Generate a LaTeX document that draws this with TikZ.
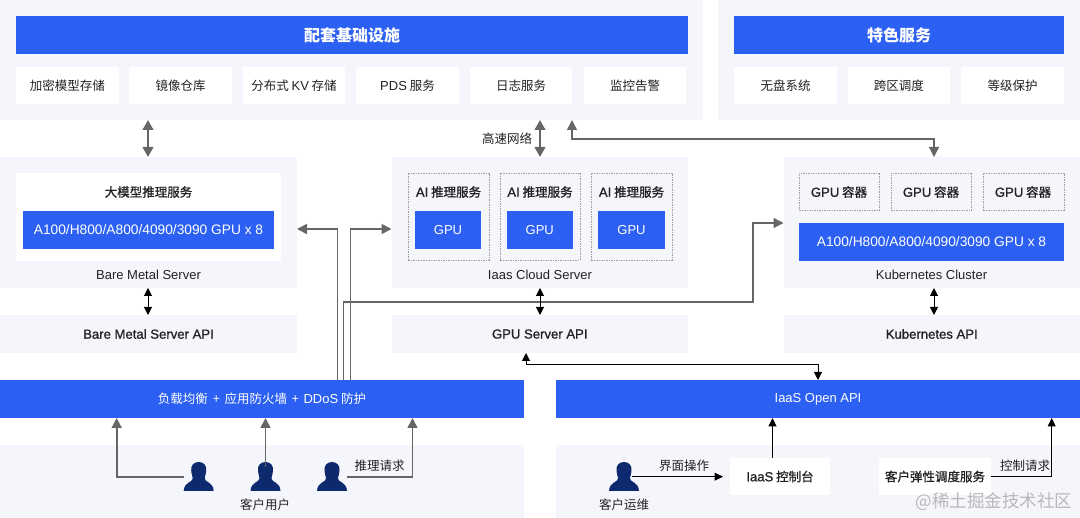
\documentclass[tikz,border=0pt]{standalone}
\usepackage{fontspec}
\setmainfont{Noto Sans CJK SC}
\newfontfamily\lat{Liberation Sans}[Scale=1.04]
\newfontfamily\latg{Liberation Sans}[Scale=1.1]
\newfontfamily\latm{Liberation Sans}[Scale=1.05,FakeBold=1]
\newfontfamily\cjkm{Noto Sans CJK SC}[FakeBold=1]
\usetikzlibrary{arrows.meta}
\definecolor{panelc}{HTML}{F4F6FB}
\definecolor{bluec}{HTML}{2C60F2}
\definecolor{navyc}{HTML}{0E2A6E}
\definecolor{grayc}{HTML}{666666}
\definecolor{darkc}{HTML}{222222}
\newcommand{\bx}[7]{%
  \pgfmathsetmacro{\cxa}{(#3+#5)/2}\pgfmathsetmacro{\cya}{(#4+#6)/2}%
  \pgfmathsetmacro{\wa}{#5-#3}\pgfmathsetmacro{\ha}{#6-#4}%
  \node[#2,minimum width=\wa pt,minimum height=\ha pt] (#1) at (\cxa,\cya) {#7};}
\newcommand{\person}[2]{%
  \node[inner sep=0pt,minimum width=30pt,minimum height=29pt] (#1) at (#2,476.5) {};
  \fill[navyc,shift={(#2,476.5)}] (0,-14.5) .. controls (5,-14.5) and (8,-11) .. (7.5,-6)
    .. controls (7.2,-2) and (6,0) .. (6,2) .. controls (6,6) and (14.5,5) .. (15,14.5)
    -- (-15,14.5) .. controls (-14.5,5) and (-6,6) .. (-6,2)
    .. controls (-6,0) and (-7.2,-2) .. (-7.5,-6) .. controls (-8,-11) and (-5,-14.5) .. (0,-14.5) -- cycle;}
\tikzset{
  base/.style={inner sep=0pt,outer sep=0pt,font=\fontsize{12.5}{15}\selectfont,text=darkc},
  panel/.style={base,fill=panelc},
  whitebox/.style={base,fill=white},
  bluebar/.style={base,fill=bluec,text=white},
  titlebar/.style={bluebar,font=\fontsize{16}{19}\selectfont\bfseries},
  dashbox/.style={base,draw=gray!75,line width=0.7pt,dash pattern=on 1.5pt off 1pt},
  strong/.style={base,font=\fontsize{12.5}{15}\cjkm\selectfont},
  lbl/.style={base,fill=none},
  thickarr/.style={draw=grayc,line width=2.4pt,{Triangle[length=10pt,width=10.5pt]}-{Triangle[length=10pt,width=10.5pt]}},
  grayarr/.style={draw=grayc,line width=1.3pt,-{Triangle[length=10pt,width=10pt]}},
  graymain/.style={grayarr,line width=1.7pt},
  gray2arr/.style={draw=grayc,line width=1.3pt,{Triangle[length=10pt,width=10pt]}-{Triangle[length=10pt,width=10pt]}},
  blackdbl/.style={draw=black,line width=1pt,{Triangle[length=8pt,width=8pt]}-{Triangle[length=8pt,width=8pt]}},
  blackarr/.style={draw=black,line width=1pt,-{Triangle[length=8.5pt,width=8pt]}},
}
\begin{document}
\begin{tikzpicture}[x=1pt,y=-1pt]
\useasboundingbox (0,0) rectangle (1080,518);
% top panels
\bx{infra}{panel}{0}{0}{703}{120}{}
\bx{feat}{panel}{718}{0}{1080}{120}{}
\bx{infrabar}{titlebar}{16}{16}{688}{54}{配套基础设施}
\bx{featbar}{titlebar}{734}{16}{1064}{54}{特色服务}
\bx{i1}{whitebox}{16}{67}{119}{104}{加密模型存储}
\bx{i2}{whitebox}{129}{67}{232}{104}{镜像仓库}
\bx{i3}{whitebox}{243}{67}{345}{104}{分布式 {\lat KV} 存储}
\bx{i4}{whitebox}{356}{67}{459}{104}{{\lat PDS} 服务}
\bx{i5}{whitebox}{470}{67}{572}{104}{日志服务}
\bx{i6}{whitebox}{584}{67}{686}{104}{监控告警}
\bx{f1}{whitebox}{734}{67}{837}{104}{无盘系统}
\bx{f2}{whitebox}{847.5}{67}{950}{104}{跨区调度}
\bx{f3}{whitebox}{961}{67}{1064}{104}{等级保护}
% bare metal
\bx{bm}{panel}{0}{157}{297}{288}{}
\bx{bmw}{whitebox}{16}{173}{281}{261}{}
\node[strong] (bmt) at (148.5,192) {大模型推理服务};
\bx{bmg}{bluebar}{23}{211}{274}{249}{\latg A100/H800/A800/4090/3090 GPU x 8}
\node[lbl] (bml) at (148.5,275) {\lat Bare Metal Server};
\bx{bmapi}{panel}{0}{315}{297}{353}{\latm Bare Metal Server API}
% iaas
\bx{ia}{panel}{391.5}{157}{688}{288}{}
\bx{d1}{dashbox}{408}{173}{489}{260}{}
\bx{d2}{dashbox}{500}{173}{580}{260}{}
\bx{d3}{dashbox}{591}{173}{672}{260}{}
\node[strong] (t1) at (448.5,192) {{\latm AI} 推理服务};
\node[strong] (t2) at (540,192) {{\latm AI} 推理服务};
\node[strong] (t3) at (631.5,192) {{\latm AI} 推理服务};
\bx{g1}{bluebar}{415}{211}{481}{249}{\lat GPU}
\bx{g2}{bluebar}{506.5}{211}{573}{249}{\lat GPU}
\bx{g3}{bluebar}{598}{211}{665}{249}{\lat GPU}
\node[lbl] (ial) at (540,275) {\lat Iaas Cloud Server};
\bx{iaapi}{panel}{391.5}{315}{688}{353}{\latm GPU Server API}
% k8s
\bx{k}{panel}{783.5}{157}{1080}{288}{}
\bx{c1}{dashbox}{799}{173}{879.5}{210}{}
\bx{c2}{dashbox}{891}{173}{971.5}{210}{}
\bx{c3}{dashbox}{983}{173}{1064}{210}{}
\node[strong] (ct1) at (839,192) {{\latm GPU} 容器};
\node[strong] (ct2) at (931,192) {{\latm GPU} 容器};
\node[strong] (ct3) at (1023,192) {{\latm GPU} 容器};
\bx{kg}{bluebar}{799}{223}{1064}{261}{\latg A100/H800/A800/4090/3090 GPU x 8}
\node[lbl] (kl) at (931.5,275) {\lat Kubernetes Cluster};
\bx{kapi}{panel}{783.5}{315}{1080}{353}{\latm Kubernetes API}
% bottom
\bx{lb}{bluebar}{0}{380}{524}{418}{负载均衡\hspace{2pt} + \hspace{2pt}应用防火墙\hspace{2pt} + \hspace{2pt}{\lat DDoS} 防护}
\bx{open}{bluebar}{556}{380}{1080}{418}{\lat IaaS Open API}
\bx{users}{panel}{0}{445}{524}{518}{}
\bx{ops}{panel}{556}{445}{1080}{518}{}
\person{p1}{198.7}
\person{p2}{265.5}
\person{p3}{332}
\person{p4}{624}
\node[lbl] (ul) at (265,505) {客户用户};
\node[lbl] (ol) at (624,505) {客户运维};
\bx{con}{whitebox}{730}{458}{830}{495}{{\latm IaaS} {\cjkm 控制台}}
\bx{sch}{strong,fill=white}{879}{458}{991}{495}{客户弹性调度服务}
% routing coordinates
\coordinate (x148) at (148,0);
\coordinate (x540) at (540,0);
\coordinate (x572) at (572,139);
\coordinate (x934) at (934,139);
\coordinate (xa) at (337.5,229);
\coordinate (xb) at (350.5,229);
\coordinate (xc) at (343.7,302);
\coordinate (xd) at (753,302);
\coordinate (xe) at (753,223);
\coordinate (xf) at (526,365);
\coordinate (xg) at (818,365);
\coordinate (xh) at (116.7,476.7);
\coordinate (xi) at (412.5,476.7);
\coordinate (xj) at (772.5,0);
\coordinate (xk) at (1051.7,476.7);
% connectors
\draw[thickarr] (infra.south -| x148) -- (bm.north -| x148);
\draw[thickarr] (infra.south -| x540) -- (ia.north -| x540);
\node[lbl,anchor=east] (net) at (532,139) {高速网络};
\draw[gray2arr] (infra.south -| x572) -- (x572) -- (x934) -- (k.north -| x934);
\draw[graymain] (lb.north -| xa) -- (xa) -- (xa -| bm.east);
\draw[graymain] (lb.north -| xb) -- (xb) -- (xb -| ia.west);
\draw[grayarr] (lb.north -| xc) -- (xc) -- (xd) -- (xe) -- (xe -| k.west);
\draw[blackdbl] (bm.south -| x148) -- (bmapi.north -| x148);
\draw[blackdbl] (ia.south -| x540) -- (iaapi.north -| x540);
\draw[blackdbl] (k.south -| x934) -- (kapi.north -| x934);
\draw[blackdbl] (iaapi.south -| xf) -- (xf) -- (xg) -- (open.north -| xg);
\draw[graymain] (xh -| p1.west) -- (xh) -- (lb.south -| xh);
\draw[graymain] ([yshift=-5pt]p2.north) -- (lb.south -| p2.north);
\draw[graymain] (xi -| p3.east) -- (xi) -- (lb.south -| xi);
\node[lbl] (req) at (379.5,465.7) {推理请求};
\draw[blackarr] ([xshift=-7pt]p4.east |- xi) -- ([xshift=-7pt]con.west |- xi);
\node[lbl] (uiop) at (684,465.7) {界面操作};
\draw[blackarr] (con.north -| xj) -- (open.south -| xj);
\draw[blackarr] (sch.east |- xk) -- (xk) -- (open.south -| xk);
\node[lbl] (ctrl) at (1025,465.7) {控制请求};
\node[lbl,text=black!28,font=\fontsize{17.5}{20}\selectfont] (wm) at (994,502) {@稀土掘金技术社区};
\end{tikzpicture}
\end{document}
